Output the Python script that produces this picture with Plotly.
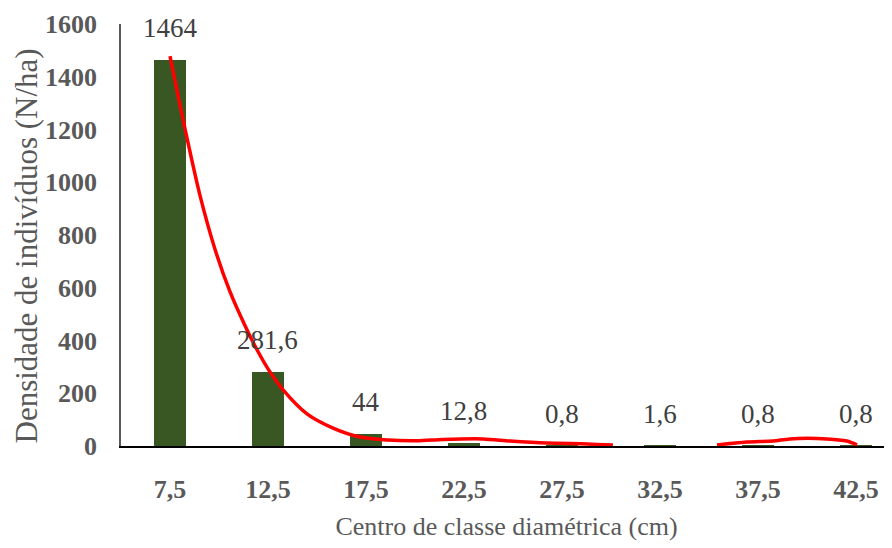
import plotly.graph_objects as go

# Data
class_centers = [7.5, 12.5, 17.5, 22.5, 27.5, 32.5, 37.5, 42.5]
tick_labels = ["7,5", "12,5", "17,5", "22,5", "27,5", "32,5", "37,5", "42,5"]
density = [1464, 281.6, 44, 12.8, 0.8, 1.6, 0.8, 0.8]
value_labels = ["1464", "281,6", "44", "12,8", "0,8", "1,6", "0,8", "0,8"]
y_ticks = [0, 200, 400, 600, 800, 1000, 1200, 1400, 1600]

# Trend line; None = curve below zero (not drawn)
trend_x = [7.5, 8.27, 9.03, 9.8, 10.56, 11.33, 11.94, 12.6, 13.27, 14.49,
           15.82, 17.19, 18.57, 20.1, 21.43, 23.47, 24.85, 26.73, 28.78, 30.1,
           None,
           35.41, 36.94, 38.27, 39.13, 41.02, 42.04, 42.55]
trend_y = [1478, 1201, 950, 745, 585, 456, 365, 281, 213, 122,
           68, 34, 23, 20, 25, 27, 19, 11, 8, 4,
           None,
           4, 15, 19, 27, 27, 19, 4]

FONT = "Liberation Serif, Times New Roman, serif"

fig = go.Figure()
fig.add_trace(go.Bar(
    x=class_centers, y=density, width=1.6,
    marker=dict(color="#385723", line=dict(width=0)),
    showlegend=False, hoverinfo="x+y",
))
fig.add_trace(go.Scatter(
    x=trend_x, y=trend_y, mode="lines",
    line=dict(color="#FF0000", width=3.5, shape="spline", smoothing=0.8),
    connectgaps=False, showlegend=False,
))

annotations = []
for xv, yv, lab in zip(class_centers, density, value_labels):
    annotations.append(dict(
        x=xv, y=yv, xref="x", yref="y", text=lab, showarrow=False,
        yanchor="middle", xanchor="center", yshift=32,
        font=dict(family=FONT, size=27, color="#404040"),
    ))
# y-axis title as rotated annotation (placed like the reference)
annotations.append(dict(
    x=-0.122, y=0.475, xref="paper", yref="paper",
    text="Densidade de indivíduos (N/ha)", textangle=-90, showarrow=False,
    xanchor="center", yanchor="middle",
    font=dict(family=FONT, size=31, color="#595959"),
))

# page body adds an 8px offset; figure is sized to fill the remaining window
fig.update_layout(
    width=884, height=540,
    margin=dict(l=113, r=0, t=16, b=102),
    paper_bgcolor="white", plot_bgcolor="white",
    annotations=annotations,
    bargap=0,
)
fig.update_xaxes(
    range=[5, 44.34], tickmode="array", tickvals=class_centers, ticktext=tick_labels,
    showgrid=False, zeroline=False, showline=True, linecolor="#000000", linewidth=1.5,
    ticks="", ticklabelstandoff=19, automargin=False,
    tickfont=dict(family=FONT, size=26, color="#595959", weight="bold"),
    title=dict(text="Centro de classe diamétrica (cm)", standoff=14,
               font=dict(family=FONT, size=26, color="#595959")),
)
fig.update_yaxes(
    range=[0, 1600], tickmode="array", tickvals=y_ticks,
    showgrid=False, zeroline=False, showline=True, linecolor="#595959", linewidth=1.5,
    ticks="", ticklabelstandoff=17, automargin=False,
    tickfont=dict(family=FONT, size=26, color="#595959", weight="bold"),
)

fig.write_html("out.html")
